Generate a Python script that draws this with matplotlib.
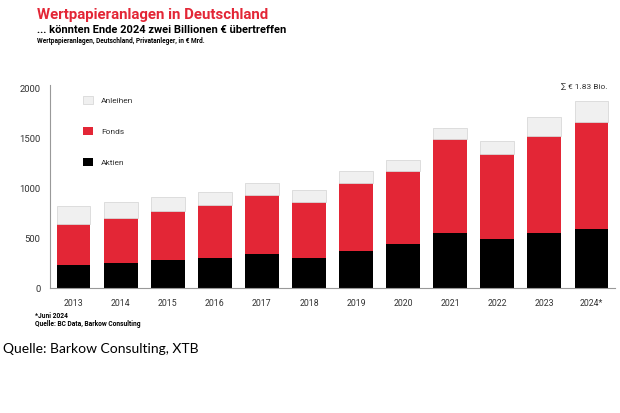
import matplotlib
matplotlib.use("Agg")
import matplotlib.pyplot as plt
import numpy as np

years = ["2013", "2014", "2015", "2016", "2017", "2018",
         "2019", "2020", "2021", "2022", "2023", "2024*"]
aktien = [233, 247, 277, 303, 340, 297, 370, 437, 553, 487, 547, 590]
fonds = [407, 450, 496, 527, 590, 566, 677, 730, 934, 856, 970, 1067]
anleihen = [183, 166, 140, 127, 123, 114, 123, 113, 110, 124, 193, 216]

red = "#e32636"
grey = "#f0f0f0"
txt = "#333333"

plt.rcParams["font.family"] = ["Roboto", "DejaVu Sans"]

fig = plt.figure(figsize=(6.2, 4.13), dpi=100)
ax = fig.add_axes([50 / 620, 125 / 413, 565 / 620, 203 / 413])

x = np.arange(len(years))
w = 0.72
b1 = ax.bar(x, aktien, w, color="black", label="Aktien")
b2 = ax.bar(x, fonds, w, bottom=aktien, color=red, label="Fonds")
bottom2 = np.array(aktien) + np.array(fonds)
b3 = ax.bar(x, anleihen, w, bottom=bottom2, color=grey, edgecolor="#d8d8d8",
            linewidth=0.6, label="Anleihen")

ax.set_xlim(-0.5, 11.5)
ax.set_ylim(0, 2030)
ax.set_yticks([0, 500, 1000, 1500, 2000])
ax.set_xticks(x)
ax.set_xticklabels(years)
ax.tick_params(axis="both", length=0, colors=txt)
ax.tick_params(axis="y", labelsize=6.8, pad=7)
ax.tick_params(axis="x", labelsize=6.3, pad=8)
for s in ["top", "right"]:
    ax.spines[s].set_visible(False)
for s in ["left", "bottom"]:
    ax.spines[s].set_color("#999999")
    ax.spines[s].set_linewidth(0.8)

ax.legend([b3, b2, b1], ["Anleihen", "Fonds", "Aktien"], loc="upper left",
          bbox_to_anchor=(0.045, 0.985), frameon=False, fontsize=6,
          handlelength=1.2, handleheight=1.2, labelspacing=2.7,
          handletextpad=1.0, labelcolor=txt)

ax.text(11.35, 1985, "∑ € 1.83 Bio.", ha="right", va="bottom",
        fontsize=6, color=txt)

fig.text(37 / 620, 1 - 15 / 413, "Wertpapieranlagen in Deutschland",
         color=red, fontsize=10.8, fontweight="bold", va="center")
fig.text(37 / 620, 1 - 30 / 413,
         "... könnten Ende 2024 zwei Billionen € übertreffen",
         color="black", fontsize=8.0, fontweight="bold", va="center")
fig.text(37 / 620, 1 - 41 / 413,
         "Wertpapieranlagen, Deutschland, Privatanleger, in € Mrd.",
         color="black", fontsize=4.7, fontweight="bold", va="center")

fig.text(35 / 620, 1 - 316 / 413, "*Juni 2024", fontsize=4.8,
         fontweight="bold", va="center")
fig.text(35 / 620, 1 - 324 / 413, "Quelle: BC Data, Barkow Consulting",
         fontsize=4.8, fontweight="bold", va="center")

fig.text(3 / 620, 1 - 349 / 413, "Quelle: Barkow Consulting, XTB",
         fontsize=10, family=["Lato", "DejaVu Sans"], va="center")

plt.savefig("out.png", dpi=100)
